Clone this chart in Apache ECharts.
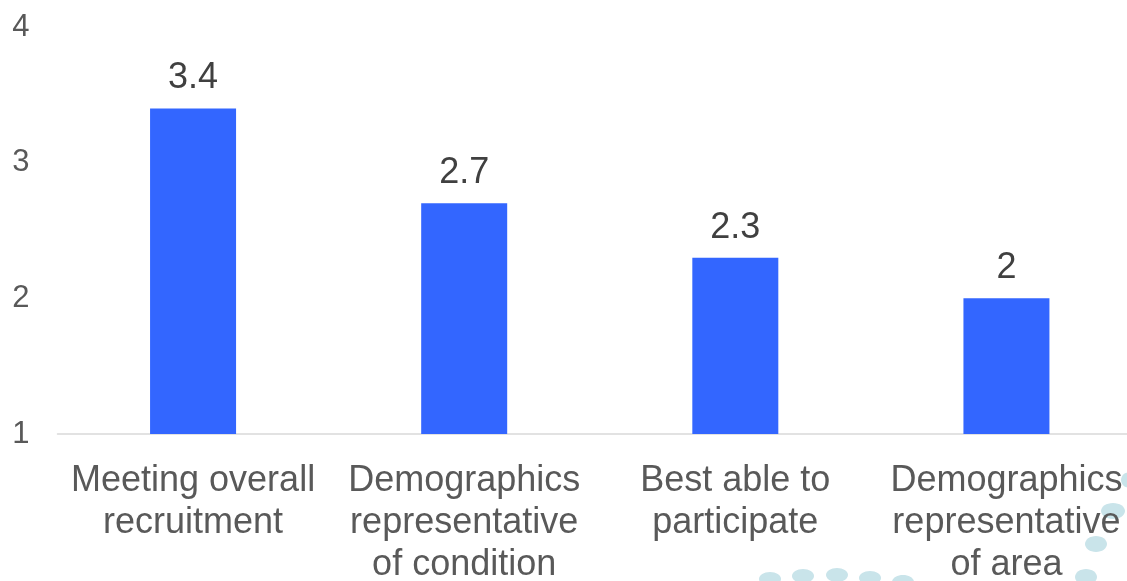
<!DOCTYPE html>
<html>
<head>
<meta charset="utf-8">
<script src="https://cdn.jsdelivr.net/npm/echarts@6/dist/echarts.min.js"></script>
<style>
html,body{margin:0;padding:0;background:#fff;overflow:hidden;width:1127px;height:581px;}
#wrap{position:relative;width:1127px;height:581px;overflow:hidden;}
#c{position:absolute;left:0;top:0;width:1142px;height:581px;}
</style>
</head>
<body>
<div id="wrap"><div id="c"></div></div>
<script>
const categories = [
  "Meeting overall\nrecruitment",
  "Demographics\nrepresentative\nof condition",
  "Best able to\nparticipate",
  "Demographics\nrepresentative\nof area"
];
const values = [3.4, 2.7, 2.3, 2];
const yTicks = [1, 2, 3, 4];

const dotColor = '#c9e4ea';
const dots = [
  [770, 579, 11, 7], [803, 576, 11, 7], [837, 575, 11, 7], [870, 578, 11, 7], [903, 582, 11, 7],
  [1113, 511, 12, 8], [1096, 544, 11, 8], [1086, 577, 11, 8], [1130, 480, 9, 8]
];

const chart = echarts.init(document.getElementById('c'), null, {renderer: 'canvas'});
chart.setOption({
  animation: false,
  backgroundColor: '#ffffff',
  grid: {left: 57.5, top: 27, right: 0, bottom: 147, containLabel: false, outerBoundsMode: 'none'},
  xAxis: {
    type: 'category',
    data: categories,
    axisLine: {show: true, lineStyle: {color: '#d9d9d9', width: 1.5}},
    axisTick: {show: false},
    axisLabel: {
      color: '#595959',
      fontFamily: 'Liberation Sans, Arial, sans-serif',
      fontSize: 36,
      lineHeight: 42,
      margin: 26,
      interval: 0
    }
  },
  yAxis: {
    type: 'value',
    min: yTicks[0],
    max: yTicks[yTicks.length - 1],
    interval: 1,
    splitLine: {show: false},
    axisLine: {show: false},
    axisTick: {show: false},
    axisLabel: {
      color: '#595959',
      fontFamily: 'Liberation Sans, Arial, sans-serif',
      fontSize: 31,
      margin: 28
    }
  },
  series: [{
    type: 'bar',
    data: values,
    barWidth: 86,
    itemStyle: {color: '#3366ff'},
    label: {
      show: true,
      position: 'top',
      distance: 12,
      color: '#404040',
      fontFamily: 'Liberation Sans, Arial, sans-serif',
      fontSize: 36
    }
  }],
  graphic: dots.map(d => ({
    type: 'ellipse',
    shape: {cx: d[0], cy: d[1], rx: d[2], ry: d[3]},
    style: {fill: dotColor},
    z: -1
  }))
});
</script>
</body>
</html>
